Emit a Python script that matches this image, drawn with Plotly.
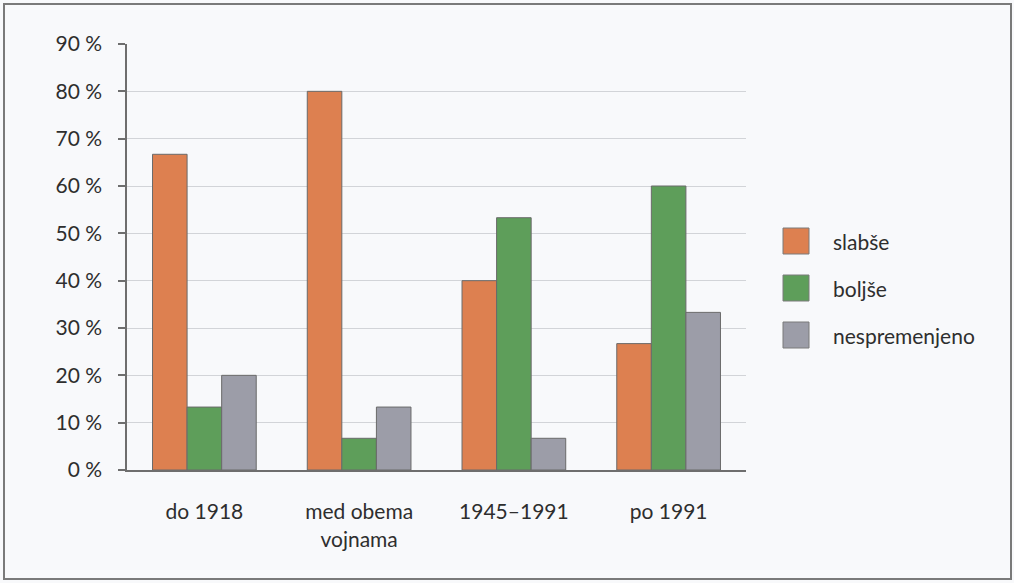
import plotly.graph_objects as go

# Survey results per period (share of respondents, %)
periods = ["do 1918", "med obema<br>vojnama", "1945–1991", "po 1991"]
series_names = ["slabše", "boljše", "nespremenjeno"]
slabse = [66.7, 80.0, 40.0, 26.7]
boljse = [13.3, 6.7, 53.3, 60.0]
nespremenjeno = [20.0, 13.3, 6.7, 33.3]
y_ticks = [0, 10, 20, 30, 40, 50, 60, 70, 80, 90]
y_tick_labels = [f"{v} %" for v in y_ticks]

colors = ["#DD8050", "#5E9E5A", "#9C9DA8"]
FONT = "Lato, 'Noto Sans', sans-serif"
TEXT = "#2e2e2e"

W, H = 1014, 583
L, R, T, B = 127, 268, 44, 113
PW, PH = W - L - R, H - T - B


def px_x(px):
    return (px - L) / PW


def px_y(py):
    return (H - B - py) / PH


fig = go.Figure()
for name, vals, col in zip(series_names, [slabse, boljse, nespremenjeno], colors):
    fig.add_trace(go.Bar(
        x=periods, y=vals, name=name,
        marker=dict(color=col, line=dict(color="#6a6a6a", width=1)),
        showlegend=False,
    ))

# Hand-drawn legend with large swatches
for i, (name, col) in enumerate(zip(series_names, colors)):
    cy = 241 + i * 47
    fig.add_shape(type="rect", xref="paper", yref="paper",
                  x0=px_x(783), x1=px_x(809), y0=px_y(cy + 13), y1=px_y(cy - 13),
                  fillcolor=col, line=dict(color="#7a7a7a", width=1))
    fig.add_annotation(xref="paper", yref="paper", x=px_x(831), y=px_y(cy),
                       text=name, showarrow=False, xanchor="left", yanchor="middle",
                       font=dict(family=FONT, size=21, color=TEXT))

# Outer frame
fig.add_shape(type="rect", xref="paper", yref="paper",
              x0=px_x(4), x1=px_x(1011), y0=px_y(579), y1=px_y(4),
              line=dict(color="#7a7a7a", width=2), fillcolor="rgba(0,0,0,0)",
              layer="below")

fig.update_layout(
    width=W, height=H,
    margin=dict(l=L, r=R, t=T, b=B, pad=0),
    paper_bgcolor="#F8F9FB", plot_bgcolor="#F8F9FB",
    barmode="group", bargap=0.33, bargroupgap=0,
    font=dict(family=FONT, size=21, color=TEXT),
)
fig.update_yaxes(
    range=[0, 90], tickvals=y_ticks, ticktext=y_tick_labels,
    showgrid=True, gridcolor="#d2d4d8", gridwidth=1,
    showline=True, linecolor="#6e6e6e", linewidth=1.5,
    ticks="outside", ticklen=7, tickcolor="#6e6e6e", tickwidth=1.5,
    ticklabelstandoff=12, zeroline=False,
    tickfont=dict(family=FONT, size=21, color=TEXT),
)
fig.update_xaxes(
    showline=True, linecolor="#6e6e6e", linewidth=2,
    ticks="", ticklabelstandoff=22,
    tickfont=dict(family=FONT, size=21, color=TEXT),
)

fig.write_html("out.html")
